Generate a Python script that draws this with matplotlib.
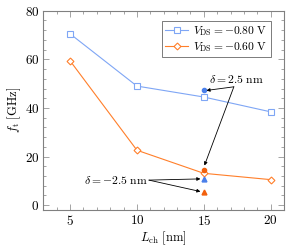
import matplotlib
matplotlib.use('Agg')
import matplotlib.pyplot as plt
from matplotlib.ticker import MultipleLocator

plt.rcParams['mathtext.fontset'] = 'cm'
plt.rcParams['font.family'] = 'cmr10'
plt.rcParams['axes.formatter.use_mathtext'] = True

# data
lch = [5, 10, 15, 20]
ft_080 = [70.5, 49.0, 44.5, 38.4]
ft_060 = [59.4, 22.6, 13.1, 10.5]
delta_pos_080 = 47.2
delta_pos_060 = 14.4
delta_neg_080 = 10.6
delta_neg_060 = 5.4

blue = '#7fa6f5'
orange = '#ff7f2a'
blue_dark = '#4a7fea'
orange_dark = '#f2600c'
frame = '#808080'

fig = plt.figure(figsize=(2.87, 2.5), dpi=100)
ax = fig.add_axes([0.151, 0.16, 0.8385, 0.797])

ax.plot(lch, ft_080, color=blue, lw=0.8, marker='s', ms=4, mfc='white', mec=blue, mew=0.8,
        label=r'$V_\mathrm{DS} = -0.80\ \mathrm{V}$')
ax.plot(lch, ft_060, color=orange, lw=0.8, marker='D', ms=3.5, mfc='white', mec=orange, mew=0.8,
        label=r'$V_\mathrm{DS} = -0.60\ \mathrm{V}$')

ax.plot([15], [delta_pos_080], 'o', color=blue_dark, ms=3)
ax.plot([15], [delta_pos_060], 'o', color=orange_dark, ms=3)
ax.plot([15], [delta_neg_080], '^', color=blue_dark, ms=3.5)
ax.plot([15], [delta_neg_060], '^', color=orange_dark, ms=3.5)

arrow = dict(arrowstyle='-|>', lw=0.6, color='black', shrinkA=0, shrinkB=0, mutation_scale=5)
ax.annotate('', xy=(15.2, 47.2), xytext=(17.25, 48.7), arrowprops=arrow)
ax.annotate('', xy=(15.05, 16.3), xytext=(17.25, 48.7), arrowprops=arrow)
ax.text(17.4, 51.8, r'$\delta = 2.5\ \mathrm{nm}$', fontsize=8.4, ha='center', va='center')
ax.annotate('', xy=(14.75, 10.8), xytext=(10.9, 10.3), arrowprops=arrow)
ax.annotate('', xy=(14.75, 5.6), xytext=(10.9, 10.3), arrowprops=arrow)
ax.text(8.45, 10.3, r'$\delta = -2.5\ \mathrm{nm}$', fontsize=8.4, ha='center', va='center')

ax.set_xlim(3, 21)
ax.set_ylim(-2, 80)
ax.xaxis.set_major_locator(MultipleLocator(5))
ax.xaxis.set_minor_locator(MultipleLocator(1))
ax.yaxis.set_major_locator(MultipleLocator(20))
ax.yaxis.set_minor_locator(MultipleLocator(4))
ax.tick_params(which='both', direction='in', top=True, right=True, color=frame, labelsize=9.5, pad=3)
ax.tick_params(which='major', length=4, width=0.5)
ax.tick_params(which='minor', length=2.5, width=0.5)
for s in ax.spines.values():
    s.set_color(frame)
    s.set_linewidth(0.8)

ax.set_xlabel(r'$L_\mathrm{ch}\ [\mathrm{nm}]$', fontsize=9, labelpad=1)
ax.set_ylabel(r'$f_\mathrm{t}\ [\mathrm{GHz}]$', fontsize=9, labelpad=1)

leg = ax.legend(loc='upper right', bbox_to_anchor=(0.945, 0.95), fontsize=8.3, frameon=True,
                fancybox=False, edgecolor='#404040', borderaxespad=0, handlelength=2.0,
                borderpad=0.3, labelspacing=0.15, handletextpad=0.4)
leg.get_frame().set_linewidth(0.6)

fig.savefig('out.png', dpi=100)
